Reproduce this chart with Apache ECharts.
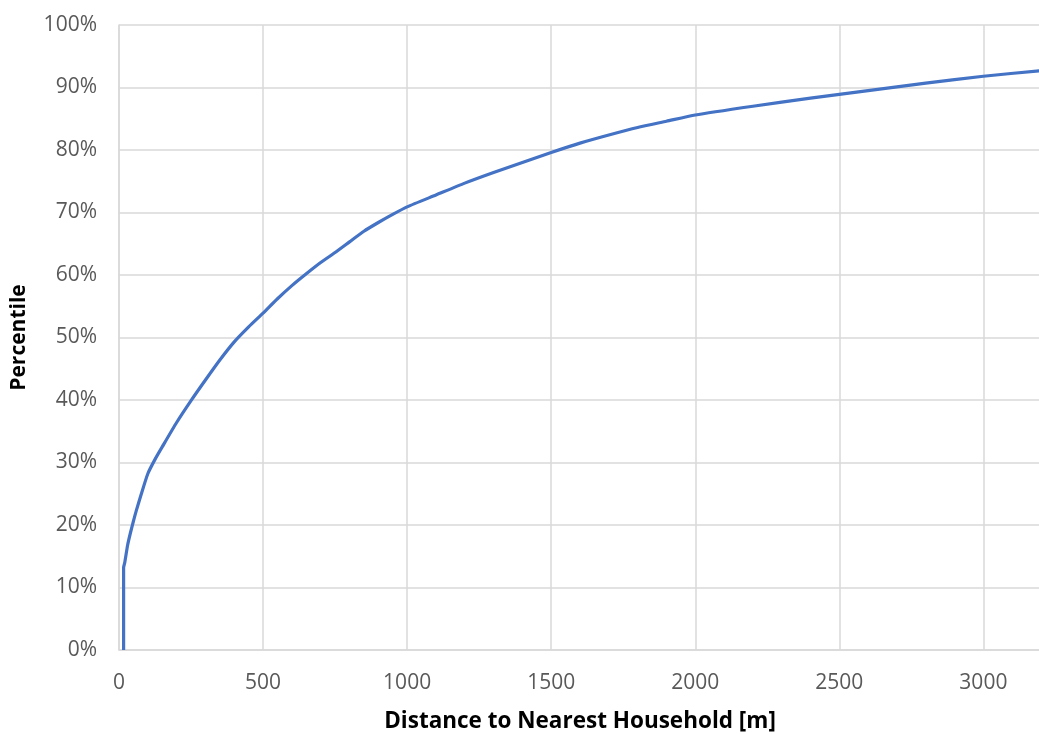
<!DOCTYPE html>
<html>
<head>
<meta charset="utf-8">
<script src="https://cdn.jsdelivr.net/npm/echarts@6/dist/echarts.min.js"></script>
<style>
html,body{margin:0;padding:0;background:#fff;}
#chart{width:1039px;height:734px;}
</style>
</head>
<body>
<div id="chart"></div>
<script>
const distance = [16,16,20,30,40,50,60,75,100,125,150,200,250,300,350,400,450,500,550,600,650,700,750,800,850,900,950,1000,1100,1200,1300,1400,1500,1600,1700,1800,1900,2000,2200,2400,2600,2800,3000,3200];
const percentile = [0,13.2,14,16.8,18.8,20.6,22.3,24.6,28.2,30.5,32.5,36.4,39.9,43.2,46.4,49.3,51.7,53.9,56.2,58.3,60.2,62,63.6,65.3,67,68.4,69.7,70.9,72.8,74.7,76.4,78,79.6,81.1,82.4,83.6,84.6,85.6,87,88.3,89.5,90.7,91.8,92.7];
const xTitle = 'Distance to Nearest Household [m]';
const yTitle = 'Percentile';

const chart = echarts.init(document.getElementById('chart'));
const gridColor = '#d9d9d9';
chart.setOption({
  animation: false,
  backgroundColor: '#ffffff',
  grid: {left: 119, top: 25, bottom: 84, right: -2, containLabel: false, outerBoundsMode: 'none'},
  xAxis: {
    type: 'value', min: 0, max: 3200, interval: 500,
    name: xTitle, nameLocation: 'middle', nameGap: 60,
    nameTextStyle: {fontFamily: 'Open Sans', fontWeight: 'bold', fontSize: 22.5, color: '#000'},
    axisLine: {show: true, lineStyle: {color: gridColor, width: 1.5}},
    axisTick: {show: false},
    axisLabel: {fontFamily: 'Open Sans', fontSize: 21, color: '#595959', margin: 23, showMaxLabel: false,
      formatter: v => String(v)},
    splitLine: {show: true, lineStyle: {color: gridColor, width: 1.5}}
  },
  yAxis: {
    type: 'value', min: 0, max: 100, interval: 10,
    name: yTitle, nameLocation: 'middle', nameGap: 89, nameRotate: 90,
    nameTextStyle: {fontFamily: 'Open Sans', fontWeight: 'bold', fontSize: 21, color: '#000'},
    axisLine: {show: true, lineStyle: {color: gridColor, width: 1.5}},
    axisTick: {show: false},
    axisLabel: {fontFamily: 'Open Sans', fontSize: 21, color: '#595959', margin: 22, formatter: '{value}%'},
    splitLine: {show: true, lineStyle: {color: gridColor, width: 1.5}}
  },
  series: [{
    type: 'line',
    data: distance.map((d, i) => [d, percentile[i]]),
    smooth: 0.2,
    showSymbol: false,
    lineStyle: {color: '#4472C4', width: 3.2, join: 'round'},
    clip: true
  }]
});
</script>
</body>
</html>
